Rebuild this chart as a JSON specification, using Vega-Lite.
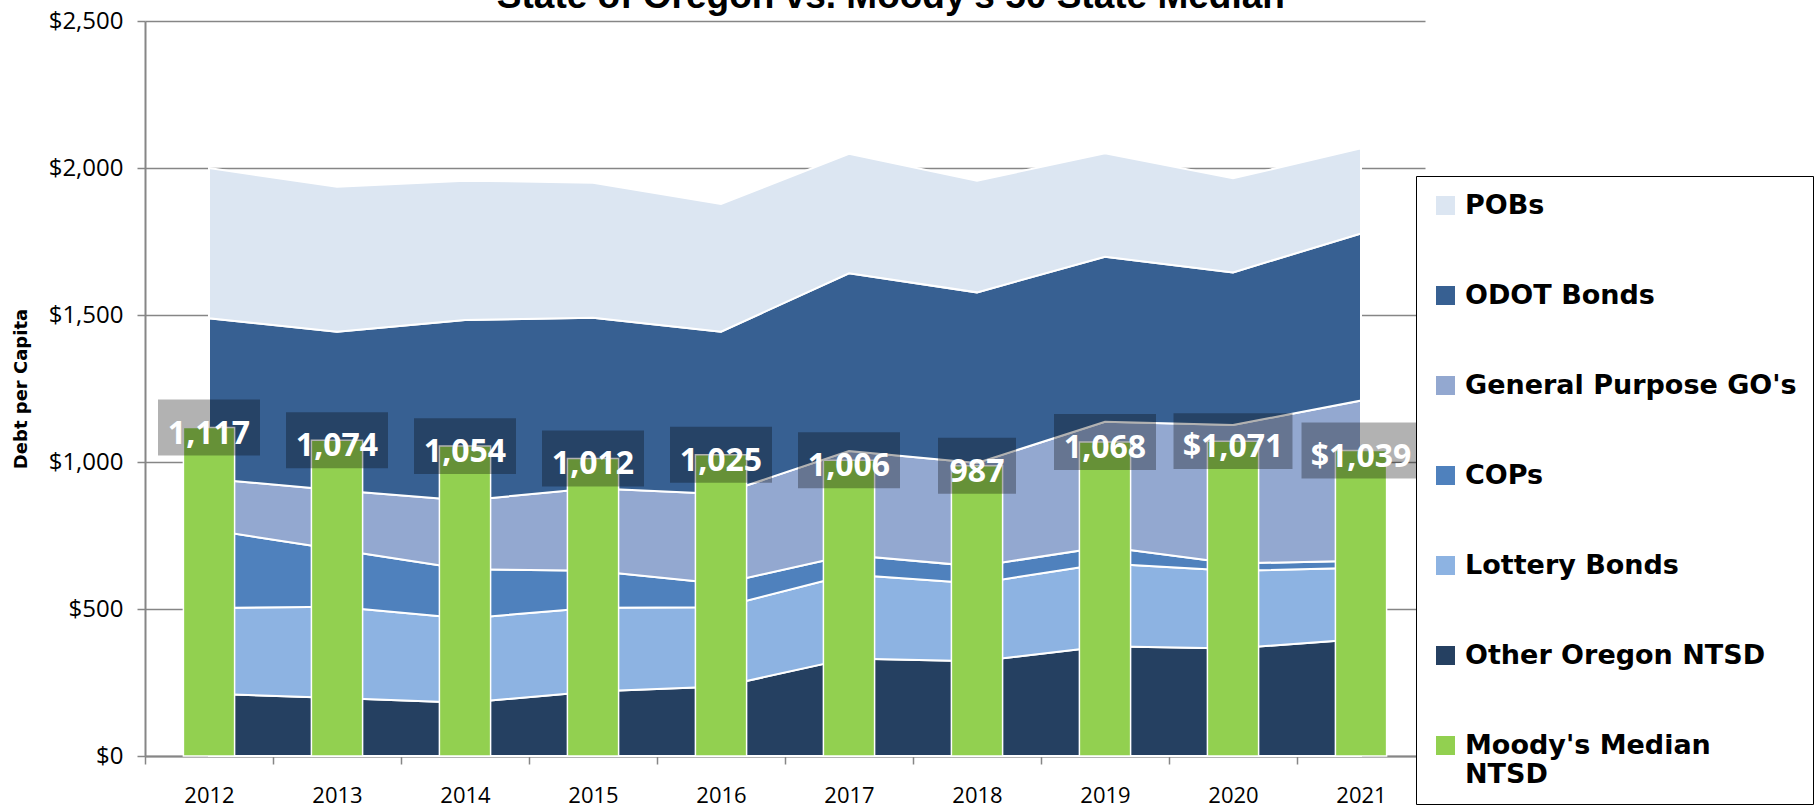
{
  "$schema": "https://vega.github.io/schema/vega-lite/v6.json",
  "width": 1280,
  "height": 735,
  "autosize": {"type": "none"},
  "padding": {"left": 145, "top": 21, "right": 392, "bottom": 54},
  "background": "white",
  "config": {"view": {"stroke": null}},
  "title": {
    "text": "State of Oregon vs. Moody's 50 State Median",
    "font": "Liberation Sans",
    "fontSize": 37,
    "fontWeight": "bold",
    "color": "black",
    "anchor": "middle",
    "frame": "bounds",
    "dx": -22,
    "dy": 36,
    "offset": 0,
    "baseline": "alphabetic"
  },
  "datasets": {
    "debt": [
      {"year": 2012, "series": "Other Oregon NTSD", "value": 212},
      {"year": 2013, "series": "Other Oregon NTSD", "value": 197},
      {"year": 2014, "series": "Other Oregon NTSD", "value": 181},
      {"year": 2015, "series": "Other Oregon NTSD", "value": 219},
      {"year": 2016, "series": "Other Oregon NTSD", "value": 236},
      {"year": 2017, "series": "Other Oregon NTSD", "value": 332},
      {"year": 2018, "series": "Other Oregon NTSD", "value": 322},
      {"year": 2019, "series": "Other Oregon NTSD", "value": 373},
      {"year": 2020, "series": "Other Oregon NTSD", "value": 366},
      {"year": 2021, "series": "Other Oregon NTSD", "value": 398},
      {"year": 2012, "series": "Lottery Bonds", "value": 291},
      {"year": 2013, "series": "Lottery Bonds", "value": 311},
      {"year": 2014, "series": "Lottery Bonds", "value": 287},
      {"year": 2015, "series": "Lottery Bonds", "value": 285},
      {"year": 2016, "series": "Lottery Bonds", "value": 270},
      {"year": 2017, "series": "Lottery Bonds", "value": 285},
      {"year": 2018, "series": "Lottery Bonds", "value": 265},
      {"year": 2019, "series": "Lottery Bonds", "value": 282},
      {"year": 2020, "series": "Lottery Bonds", "value": 264},
      {"year": 2021, "series": "Lottery Bonds", "value": 242},
      {"year": 2012, "series": "COPs", "value": 267},
      {"year": 2013, "series": "COPs", "value": 194},
      {"year": 2014, "series": "COPs", "value": 167},
      {"year": 2015, "series": "COPs", "value": 126},
      {"year": 2016, "series": "COPs", "value": 80},
      {"year": 2017, "series": "COPs", "value": 67},
      {"year": 2018, "series": "COPs", "value": 58},
      {"year": 2019, "series": "COPs", "value": 57},
      {"year": 2020, "series": "COPs", "value": 25},
      {"year": 2021, "series": "COPs", "value": 24},
      {"year": 2012, "series": "General Purpose GO's", "value": 173},
      {"year": 2013, "series": "General Purpose GO's", "value": 202},
      {"year": 2014, "series": "General Purpose GO's", "value": 234},
      {"year": 2015, "series": "General Purpose GO's", "value": 281},
      {"year": 2016, "series": "General Purpose GO's", "value": 305},
      {"year": 2017, "series": "General Purpose GO's", "value": 353},
      {"year": 2018, "series": "General Purpose GO's", "value": 352},
      {"year": 2019, "series": "General Purpose GO's", "value": 425},
      {"year": 2020, "series": "General Purpose GO's", "value": 471},
      {"year": 2021, "series": "General Purpose GO's", "value": 545},
      {"year": 2012, "series": "ODOT Bonds", "value": 546},
      {"year": 2013, "series": "ODOT Bonds", "value": 539},
      {"year": 2014, "series": "ODOT Bonds", "value": 614},
      {"year": 2015, "series": "ODOT Bonds", "value": 580},
      {"year": 2016, "series": "ODOT Bonds", "value": 552},
      {"year": 2017, "series": "ODOT Bonds", "value": 605},
      {"year": 2018, "series": "ODOT Bonds", "value": 580},
      {"year": 2019, "series": "ODOT Bonds", "value": 561},
      {"year": 2020, "series": "ODOT Bonds", "value": 519},
      {"year": 2021, "series": "ODOT Bonds", "value": 568},
      {"year": 2012, "series": "POBs", "value": 511},
      {"year": 2013, "series": "POBs", "value": 493},
      {"year": 2014, "series": "POBs", "value": 474},
      {"year": 2015, "series": "POBs", "value": 459},
      {"year": 2016, "series": "POBs", "value": 435},
      {"year": 2017, "series": "POBs", "value": 406},
      {"year": 2018, "series": "POBs", "value": 380},
      {"year": 2019, "series": "POBs", "value": 352},
      {"year": 2020, "series": "POBs", "value": 320},
      {"year": 2021, "series": "POBs", "value": 290}
    ],
    "moody": [
      {"year": 2012, "series": "Moody's Median NTSD", "value": 1117, "label": "1,117"},
      {"year": 2013, "series": "Moody's Median NTSD", "value": 1074, "label": "1,074"},
      {"year": 2014, "series": "Moody's Median NTSD", "value": 1054, "label": "1,054"},
      {"year": 2015, "series": "Moody's Median NTSD", "value": 1012, "label": "1,012"},
      {"year": 2016, "series": "Moody's Median NTSD", "value": 1025, "label": "1,025"},
      {"year": 2017, "series": "Moody's Median NTSD", "value": 1006, "label": "1,006"},
      {"year": 2018, "series": "Moody's Median NTSD", "value": 987, "label": "987"},
      {"year": 2019, "series": "Moody's Median NTSD", "value": 1068, "label": "1,068"},
      {"year": 2020, "series": "Moody's Median NTSD", "value": 1071, "label": "$1,071"},
      {"year": 2021, "series": "Moody's Median NTSD", "value": 1039, "label": "$1,039"}
    ]
  },
  "layer": [
    {
      "data": {"name": "debt"},
      "transform": [
        {"calculate": "indexof([\"POBs\", \"ODOT Bonds\", \"General Purpose GO's\", \"COPs\", \"Lottery Bonds\", \"Other Oregon NTSD\"], datum.series)", "as": "stackOrder"}
      ],
      "mark": {"type": "area", "stroke": "white", "strokeWidth": 2, "opacity": 1},
      "encoding": {
        "x": {
          "field": "year",
          "type": "ordinal",
          "bandPosition": 0.5,
          "scale": {"type": "band", "paddingInner": 0, "paddingOuter": 0},
          "axis": {
            "title": null,
            "labelFont": "Open Sans",
            "labelFontSize": 22,
            "labelColor": "black",
            "labelPadding": 21,
            "labelAngle": 0,
            "tickBand": "extent",
            "tickSize": 8,
            "tickColor": "#868686",
            "tickWidth": 1.5,
            "domainColor": "#868686",
            "domainWidth": 2,
            "grid": false
          }
        },
        "y": {
          "field": "value",
          "type": "quantitative",
          "stack": "zero",
          "scale": {"domain": [0, 2500], "nice": false},
          "axis": {
            "title": "Debt per Capita",
            "titleFont": "DejaVu Sans",
            "titleFontSize": 18,
            "titleFontWeight": "bold",
            "titleColor": "black",
            "titlePadding": 18,
            "values": [0, 500, 1000, 1500, 2000, 2500],
            "format": "$,.0f",
            "labelFont": "Open Sans",
            "labelFontSize": 24,
            "labelColor": "black",
            "labelPadding": 14,
            "tickSize": 8,
            "tickColor": "#868686",
            "tickWidth": 1.5,
            "domainColor": "#868686",
            "domainWidth": 2,
            "grid": true,
            "gridColor": "#868686",
            "gridWidth": 1.5
          }
        },
        "order": {"field": "stackOrder", "type": "quantitative", "sort": "descending"},
        "color": {
          "field": "series",
          "type": "nominal",
          "scale": {
            "domain": ["POBs", "ODOT Bonds", "General Purpose GO's", "COPs", "Lottery Bonds", "Other Oregon NTSD", "Moody's Median NTSD"],
            "range": ["#DCE6F2", "#376092", "#93A8D0", "#4F81BD", "#8DB3E2", "#254061", "#92D050"]
          },
          "legend": {
            "orient": "none",
            "legendX": 1271,
            "legendY": 155,
            "title": null,
            "symbolType": "square",
            "symbolSize": 361,
            "symbolStrokeWidth": 0,
            "labelFont": "DejaVu Sans",
            "labelFontSize": 27,
            "labelFontWeight": "bold",
            "labelColor": "black",
            "labelLimit": 500,
            "labelOffset": 6,
            "rowPadding": 62,
            "padding": 16,
            "strokeColor": "black",
            "fillColor": "white",
            "labelExpr": "datum.label == \"Moody's Median NTSD\" ? [\"Moody's Median\", \"NTSD\"] : datum.label == \"POBs\" ? \"\u00a0POBs\" : datum.label"
          }
        }
      }
    },
    {
      "data": {"name": "moody"},
      "mark": {"type": "bar", "width": {"band": 0.4}, "stroke": "white", "strokeWidth": 1.5},
      "encoding": {
        "x": {"field": "year", "type": "ordinal"},
        "y": {"field": "value", "type": "quantitative"},
        "color": {"field": "series", "type": "nominal"}
      }
    },
    {
      "data": {"name": "moody"},
      "mark": {"type": "point", "filled": true, "color": "black", "opacity": 0.3, "strokeWidth": 0, "dy": 6},
      "encoding": {
        "x": {"field": "year", "type": "ordinal", "bandPosition": 0.5},
        "y": {"field": "value", "type": "quantitative"},
        "shape": {
          "condition": [
            {"test": "length(datum.label) == 3", "value": "M-1,-0.718H1V0.718H-1Z"},
            {"test": "length(datum.label) == 6", "value": "M-1,-0.47H1V0.47H-1Z"}
          ],
          "value": "M-1,-0.549H1V0.549H-1Z"
        },
        "size": {
          "condition": [
            {"test": "length(datum.label) == 3", "value": 6084},
            {"test": "length(datum.label) == 6", "value": 14161}
          ],
          "value": 10404
        }
      }
    },
    {
      "data": {"name": "moody"},
      "mark": {"type": "text", "color": "white", "font": "Open Sans", "fontWeight": "bold", "fontSize": 32, "baseline": "middle", "align": "center", "dy": 6},
      "encoding": {
        "x": {"field": "year", "type": "ordinal", "bandPosition": 0.5},
        "y": {"field": "value", "type": "quantitative"},
        "text": {"field": "label"}
      }
    }
  ]
}
